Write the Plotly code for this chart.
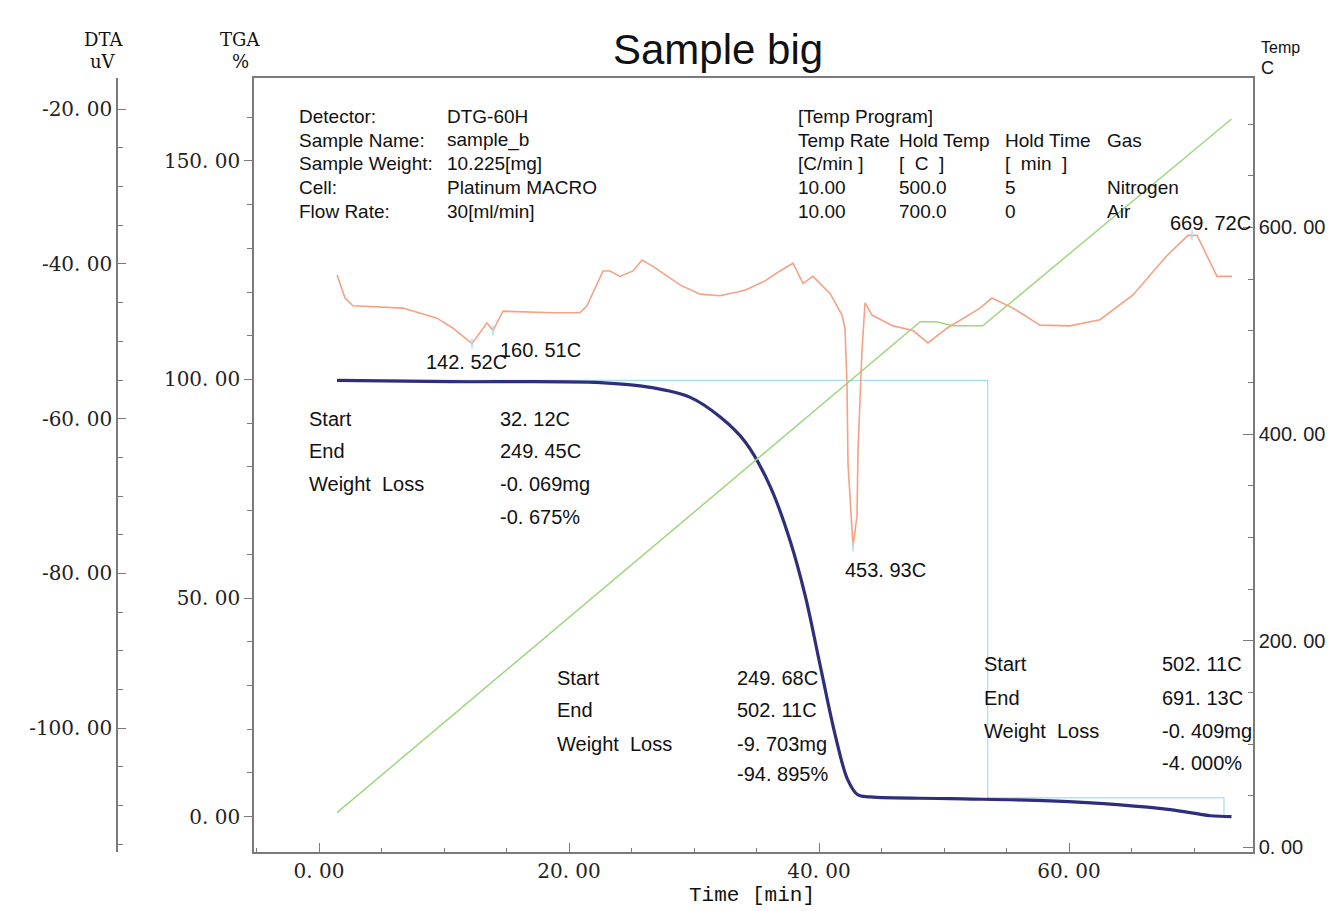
import plotly.graph_objects as go
import numpy as np

W, H = 1338, 911

# ---------------- data ----------------
tga_time = [1.44, 10.5, 22.5, 26.5, 29.7, 32.1, 34.1, 36.1, 37.7, 38.9, 40.1, 41.3, 42.3, 43.1, 44.1, 50.5, 58.5, 64.1, 68.1, 71.3, 73.0]
tga_pct = [99.8, 99.5, 99.3, 98.2, 95.9, 91.4, 85.7, 75.5, 63.0, 50.5, 34.5, 18.6, 8.4, 5.0, 4.5, 4.1, 3.6, 2.7, 1.6, 0.2, 0.0]

dta_time = [1.44, 2.08, 2.72, 6.72, 9.44, 10.72, 12.24, 13.44, 13.92, 14.72, 18.72, 20.88, 21.44, 22.72,
            23.28, 24.08, 25.12, 25.84, 26.72, 28.88, 30.48, 32.08, 34.08, 35.68, 36.88, 37.92, 38.72,
            39.52, 40.88, 41.84, 42.08, 42.24, 42.32, 42.64, 42.72, 43.04, 43.12, 43.44, 43.68, 44.24,
            45.92, 47.52, 48.72, 50.24, 52.88, 53.84, 55.52, 57.68, 60.08, 62.48, 65.12, 67.84, 69.52,
            70.24, 71.84, 73.04]
dta_uv = [-41.4, -44.4, -45.4, -45.7, -47.0, -48.3, -50.3, -47.6, -48.6, -46.1, -46.3, -46.3, -45.4, -40.9,
          -40.9, -41.6, -40.9, -39.5, -40.3, -42.7, -43.9, -44.1, -43.4, -42.2, -40.9, -39.9, -42.5,
          -41.6, -43.8, -46.6, -48.3, -55.6, -65.8, -74.8, -76.5, -72.6, -64.0, -51.2, -45.0, -46.6,
          -48.0, -48.6, -50.2, -48.3, -45.7, -44.4, -45.7, -47.9, -48.0, -47.2, -44.0, -38.9, -36.3,
          -36.3, -41.6, -41.6]

temp_time = [1.44, 48.1, 49.4, 50.7, 53.1, 73.0]
temp_c = [33.6, 508.7, 508.7, 504.8, 504.8, 705.0]

step_time = [1.44, 53.5, 53.5, 72.4, 72.4]
step_pct = [99.8, 99.8, 4.3, 4.3, 0.0]

peak_time = [12.24, 13.92, 42.72, 69.84]
peak_uv = [-50.3, -48.6, -76.5, -36.3]
peak_labels = ["142. 52C", "160. 51C", "453. 93C", "669. 72C"]

x_ticks = [0, 20, 40, 60]
x_ticklabels = ["0. 00", "20. 00", "40. 00", "60. 00"]
tga_ticks = [0, 50, 100, 150]
tga_ticklabels = ["0. 00", "50. 00", "100. 00", "150. 00"]
dta_ticks = [-20, -40, -60, -80, -100]
dta_ticklabels = ["-20. 00", "-40. 00", "-60. 00", "-80. 00", "-100. 00"]
temp_ticks = [0, 200, 400, 600]
temp_ticklabels = ["0. 00", "200. 00", "400. 00", "600. 00"]

info_labels = ["Detector:", "Sample Name:", "Sample Weight:", "Cell:", "Flow Rate:"]
info_values = ["DTG-60H", "sample_b", "10.225[mg]", "Platinum MACRO", "30[ml/min]"]
prog_rows = [["[Temp Program]", "", "", ""],
             ["Temp Rate", "Hold Temp", "Hold Time", "Gas"],
             ["[C/min ]", "[  C  ]", "[  min  ]", ""],
             ["10.00", "500.0", "5", "Nitrogen"],
             ["10.00", "700.0", "0", "Air"]]
stat_labels = ["Start", "End", "Weight  Loss", ""]
stat_values = [["32. 12C", "249. 45C", "-0. 069mg", "-0. 675%"],
               ["249. 68C", "502. 11C", "-9. 703mg", "-94. 895%"],
               ["502. 11C", "691. 13C", "-0. 409mg", "-4. 000%"]]

# ---------------- layout helpers ----------------
def xp(px):
    return px / W

def yp(py):
    return 1 - py / H

AX = "#7a7a7a"
MONO = "Liberation Mono"
SANS = "Liberation Sans"
SERIF = "DejaVu Serif"
TXT = "#111"

fig = go.Figure()
fig.add_trace(go.Scatter(x=step_time, y=step_pct, mode="lines",
                         line=dict(color="#a9dcef", width=1.2), yaxis="y", hoverinfo="skip"))
fig.add_trace(go.Scatter(x=temp_time, y=temp_c, mode="lines",
                         line=dict(color="#9fd67f", width=1.5), yaxis="y2"))
fig.add_trace(go.Scatter(x=dta_time, y=dta_uv, mode="lines",
                         line=dict(color="#f7a184", width=1.6), yaxis="y3"))
fig.add_trace(go.Scatter(x=tga_time, y=tga_pct, mode="lines", line_shape="spline",
                         line=dict(color="#2e2e7c", width=3.2), yaxis="y"))
fig.add_trace(go.Scatter(x=peak_time, y=peak_uv, mode="markers",
                         marker=dict(symbol="line-ns", size=7, line=dict(color="#a9dcef", width=1.5)),
                         yaxis="y3"))


def note(px, py, text, size=20, family=SANS, xanchor="left", **kw):
    return dict(x=xp(px), y=yp(py), xref="paper", yref="paper", text=text, showarrow=False,
                xanchor=xanchor, yanchor="middle", font=dict(family=family, size=size, color=TXT), **kw)


annotations = []
# peak labels (placed relative to the peak in data coordinates)
peak_dx = [-6, 47, 32, 18]
peak_dy = [-18, -19, -24, 12]
for t, v, lab, dx, dy in zip(peak_time, peak_uv, peak_labels, peak_dx, peak_dy):
    annotations.append(dict(x=t, y=v, xref="x", yref="y3", text=lab, showarrow=False,
                            xshift=dx, yshift=dy, xanchor="center", yanchor="middle",
                            font=dict(family=SANS, size=20, color=TXT)))

# info block
for i, (a, b) in enumerate(zip(info_labels, info_values)):
    yy = 117 + 24 * i
    annotations.append(note(297, yy, a, size=19))
    annotations.append(note(445, yy, b, size=19))
col_x = [796, 897, 1003, 1105]
for i, row in enumerate(prog_rows):
    yy = 117 + 24 * i
    for cx, txt in zip(col_x, row):
        if txt:
            annotations.append(note(cx, yy, txt, size=19))

# stat blocks
blocks = [(307, 498, [422, 454, 487, 520]), (555, 735, [682, 715, 749, 779]), (982, 1160, [668, 703, 736, 768])]
for (lx, vx, ys), vals in zip(blocks, stat_values):
    for lab, val, yy in zip(stat_labels, vals, ys):
        if lab:
            annotations.append(note(lx, yy, lab, size=20))
        annotations.append(note(vx, yy, val, size=20))

# axis titles and chart title
annotations += [
    note(103, 40, "DTA", size=18, family=SERIF, xanchor="center"),
    note(103, 62, "uV", size=18, family=SERIF, xanchor="center"),
    note(240, 40, "TGA", size=18, family=SERIF, xanchor="center"),
    note(240, 62, "%", size=18, family=SERIF, xanchor="center"),
    note(1259, 48, "Temp", size=16),
    note(1259, 68, "C", size=18),
    note(752, 901, "Time [min]", size=21, family=MONO, xanchor="center"),
    note(718, 50, "Sample big", size=42, xanchor="center"),
]

tickfont = dict(family=SERIF, size=20, color="#222")
fig.update_layout(
    width=W, height=H, margin=dict(l=0, r=0, t=0, b=0),
    paper_bgcolor="white", plot_bgcolor="white", showlegend=False,
    annotations=annotations,
    xaxis=dict(domain=[xp(254), xp(1253)], range=[-5.2, 74.72], showgrid=False, zeroline=False,
               showline=True, linecolor=AX, linewidth=1.5, mirror=True,
               tickmode="array", tickvals=x_ticks, ticktext=x_ticklabels, tickfont=tickfont,
               ticks="inside", ticklen=10, tickcolor=AX,
               minor=dict(tickmode="array", tickvals=list(np.arange(-5, 75, 5)), ticks="inside",
                          ticklen=5, tickcolor=AX)),
    yaxis=dict(domain=[yp(858), yp(79)], range=[-8.18, 168.86], showgrid=False, zeroline=False,
               showline=True, linecolor=AX, linewidth=1.5, mirror=True, anchor="x", side="left",
               tickmode="array", tickvals=tga_ticks, ticktext=tga_ticklabels, tickfont=tickfont,
               ticks="outside", ticklen=8, tickcolor=AX,
               minor=dict(tickmode="array", tickvals=list(np.arange(0, 170, 10)), ticks="outside",
                          ticklen=5, tickcolor=AX)),
    yaxis2=dict(range=[-4.8, 744.2], overlaying="y", anchor="x", side="right", showgrid=False,
                zeroline=False, showline=True, linecolor=AX, linewidth=1.5,
                tickmode="array", tickvals=temp_ticks, ticktext=temp_ticklabels,
                tickfont=dict(family=SANS, size=20, color="#222"),
                ticks="inside", ticklen=10, tickcolor=AX,
                minor=dict(tickmode="array", tickvals=list(np.arange(0, 750, 50)), ticks="inside",
                           ticklen=5, tickcolor=AX)),
    yaxis3=dict(range=[-116.05, -16.02], overlaying="y", anchor="free", position=xp(117), side="left",
                showgrid=False, zeroline=False, showline=True, linecolor=AX, linewidth=1.5,
                tickmode="array", tickvals=dta_ticks, ticktext=dta_ticklabels, tickfont=tickfont,
                ticks="inside", ticklen=8, tickcolor=AX,
                minor=dict(tickmode="array", tickvals=list(np.arange(-115, -15, 5)), ticks="inside",
                           ticklen=5, tickcolor=AX)),
)

fig.write_html("out.html", config={"displayModeBar": False},
               post_script="document.body.style.margin='0px';")
